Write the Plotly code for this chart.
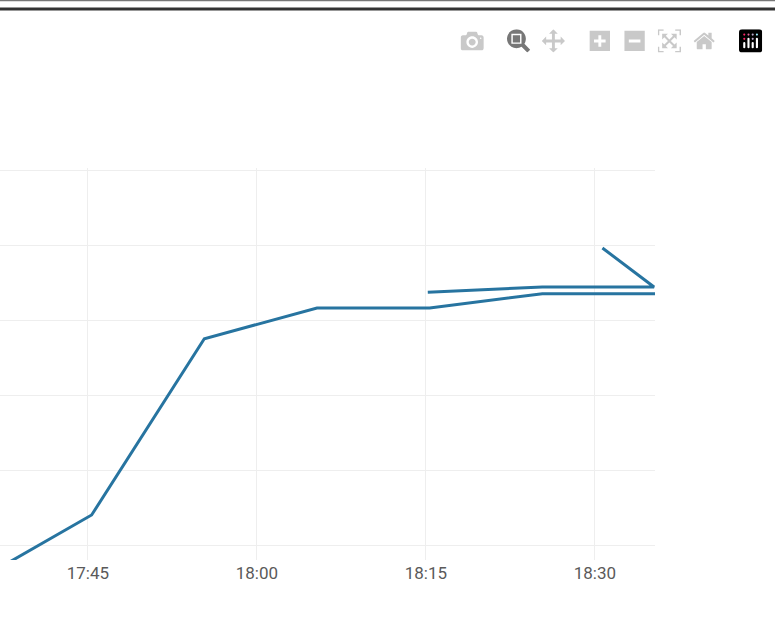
import plotly.graph_objects as go

DAY = "2023-01-01 "
# Time axis and readings; y units are one gridline step (no y labels are visible)
main_times = ["17:35:20", "17:45:20", "17:55:20", "18:05:20", "18:15:20", "18:25:20", "18:35:20"]
main_values = [-0.46, 0.40, 2.75, 3.16, 3.16, 3.35, 3.35]
tail_times = ["18:15:10", "18:25:20", "18:35:15", "18:30:40"]
tail_values = [3.37, 3.44, 3.44, 3.96]
tick_times = ["17:45", "18:00", "18:15", "18:30"]
x_range = ["17:37:12", "18:35:20"]
y_range = [-0.2, 5.0267]
y_ticks = [0, 1, 2, 3, 4, 5]

xs = [DAY + t for t in main_times] + [None] + [DAY + t for t in tail_times]
ys = main_values + [None] + tail_values

fig = go.Figure(go.Scatter(x=xs, y=ys, mode="lines", connectgaps=False,
                           line=dict(color="#2774a0", width=3), hoverinfo="skip"))
fig.update_layout(
    width=775, height=617,
    margin=dict(l=0, r=120, t=168, b=57),
    paper_bgcolor="white", plot_bgcolor="white",
    showlegend=False,
    font=dict(family="Roboto, sans-serif", size=17, color="#555555"),
    modebar=dict(color="#c9c9c9", activecolor="#777777", bgcolor="rgba(0,0,0,0)"),
    shapes=[
        dict(type="line", xref="paper", yref="paper", x0=-0.1, x1=1.3, y0=1.4056, y1=1.4056,
             line=dict(color="#333333", width=3)),
        dict(type="line", xref="paper", yref="paper", x0=-0.1, x1=1.3, y0=1.4273, y1=1.4273,
             line=dict(color="#777777", width=1.5)),
    ],
)
fig.update_xaxes(type="date", range=[DAY + x_range[0], DAY + x_range[1]],
                 tickvals=[DAY + t for t in tick_times], ticktext=tick_times,
                 showgrid=True, gridcolor="#eeeeee", gridwidth=1, zeroline=False,
                 showline=False, ticks="", ticklabelstandoff=1,
                 tickfont=dict(size=17, color="#5a5a5a"))
fig.update_yaxes(range=y_range, tickvals=y_ticks, showticklabels=False,
                 showgrid=True, gridcolor="#eeeeee", gridwidth=1, zeroline=False,
                 showline=False, ticks="")

post = """
document.documentElement.style.margin='0';document.body.style.margin='0';document.body.style.overflow='hidden';
var st=document.createElement('style');
st.textContent=".modebar{transform:scale(1.45);transform-origin:top right;top:25px !important;right:7px !important;}";
document.head.appendChild(st);
"""
fig.write_html("out.html", config=dict(displayModeBar=True, displaylogo=True), post_script=post)
